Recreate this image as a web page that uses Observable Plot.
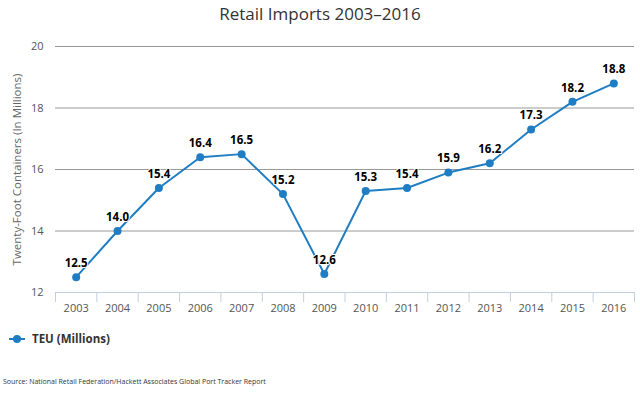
<!DOCTYPE html>
<html>
<head>
<meta charset="utf-8">
<script src="https://cdn.jsdelivr.net/npm/d3@7"></script>
<script src="https://cdn.jsdelivr.net/npm/@observablehq/plot@0.6"></script>
<style>
  html, body { margin: 0; padding: 0; background: #fff; }
  #wrap { position: relative; width: 640px; height: 395px; font-family: "Open Sans", "DejaVu Sans", sans-serif; overflow: hidden; }
  #title { position: absolute; left: 0; top: 2px; width: 640px; text-align: center; font-size: 17px; color: #333; }
  #legend { position: absolute; left: 9px; top: 331px; font-size: 11.5px; font-weight: bold; color: #333; display: flex; align-items: center; }
  #legend svg { margin-right: 7px; }
  #source { position: absolute; left: 3px; top: 377px; font-size: 7px; color: #333; }
  #chart { position: absolute; left: 0; top: 0; }
</style>
</head>
<body>
<div id="wrap">
  <div id="chart"></div>
  <div id="title">Retail Imports 2003–2016</div>
  <div id="legend"><svg width="16" height="10"><line x1="0" x2="16" y1="5" y2="5" stroke="#1f7dc3" stroke-width="2"/><circle cx="8" cy="5" r="4" fill="#1f7dc3"/></svg>TEU (Millions)</div>
  <div id="source">Source: National Retail Federation/Hackett Associates Global Port Tracker Report</div>
</div>
<script>
const years = [2003, 2004, 2005, 2006, 2007, 2008, 2009, 2010, 2011, 2012, 2013, 2014, 2015, 2016];
const teu = [12.5, 14.0, 15.4, 16.4, 16.5, 15.2, 12.6, 15.3, 15.4, 15.9, 16.2, 17.3, 18.2, 18.8];
const yTicks = [12, 14, 16, 18, 20];

const data = years.map((year, i) => ({year, teu: teu[i]}));
const boundaries = [...years.map(y => y - 0.5), years[years.length - 1] + 0.5];
const color = "#1f7dc3";

const chart = Plot.plot({
  width: 640,
  height: 395,
  marginTop: 46,
  marginBottom: 103,
  marginLeft: 55,
  marginRight: 6,
  style: {fontFamily: "'Open Sans', 'DejaVu Sans', sans-serif", background: "transparent"},
  x: {type: "linear", domain: [years[0] - 0.5, years[years.length - 1] + 0.5]},
  y: {type: "linear", domain: [12, 20]},
  marks: [
    Plot.gridY(yTicks.slice(1), {stroke: "#999", strokeOpacity: 1, strokeWidth: 1}),
    Plot.ruleY([12], {stroke: "#c0d0e0", strokeWidth: 1}),
    Plot.axisY({ticks: yTicks, tickSize: 0, tickPadding: 12, label: null, fontSize: 11, fill: "#555"}),
    Plot.text(["Twenty-Foot Containers (In Millions)"], {frameAnchor: "left", textAnchor: "middle", rotate: -90, dx: -38, fontSize: 11.5, fill: "#666"}),
    Plot.axisX({ticks: years, tickSize: 0, tickPadding: 12, tickFormat: d => String(d), label: null, fontSize: 11, fill: "#555"}),
    Plot.axisX({ticks: boundaries, tickSize: 10, tickFormat: () => "", label: null, stroke: "#c0d0e0"}),
    Plot.line(data, {x: "year", y: "teu", stroke: color, strokeWidth: 2}),
    Plot.dot(data, {x: "year", y: "teu", r: 4, fill: color}),
    Plot.text(data, {x: "year", y: "teu", text: d => d.teu.toFixed(1), dy: -14, fontWeight: "bold", fontSize: 11.5, fill: "#000", stroke: "#fff", strokeWidth: 2, paintOrder: "stroke"})
  ]
});
document.getElementById("chart").appendChild(chart);
</script>
</body>
</html>
